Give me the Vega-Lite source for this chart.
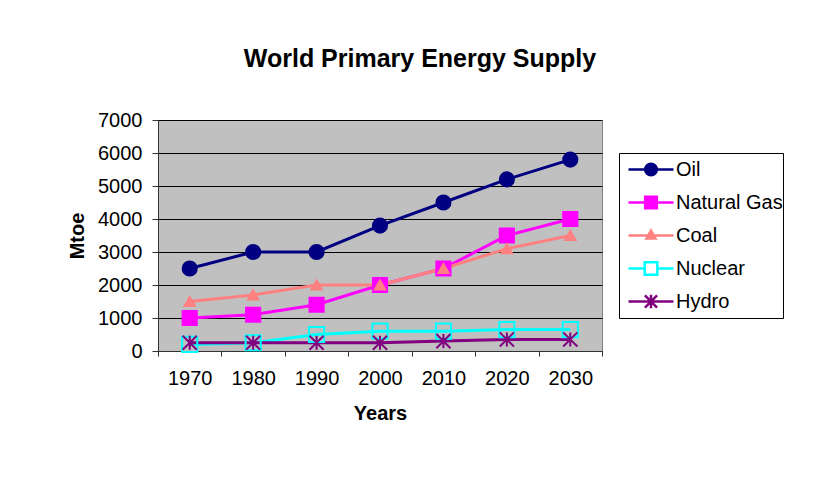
{
  "$schema": "https://vega.github.io/schema/vega-lite/v6.json",
  "width": 444,
  "height": 231,
  "autosize": {"type": "none"},
  "padding": {"left": 158, "top": 120, "right": 212, "bottom": 132},
  "background": "white",
  "title": {
    "text": "World Primary Energy Supply",
    "font": "Liberation Sans",
    "fontSize": 25,
    "fontWeight": "bold",
    "color": "black",
    "anchor": "middle",
    "baseline": "alphabetic",
    "dx": 40,
    "offset": 18
  },
  "data": {
    "values": [
      {"year": "1970", "series": "Oil", "value": 2500},
      {"year": "1980", "series": "Oil", "value": 3000},
      {"year": "1990", "series": "Oil", "value": 3000},
      {"year": "2000", "series": "Oil", "value": 3800},
      {"year": "2010", "series": "Oil", "value": 4500},
      {"year": "2020", "series": "Oil", "value": 5200},
      {"year": "2030", "series": "Oil", "value": 5800},
      {"year": "1970", "series": "Natural Gas", "value": 1000},
      {"year": "1980", "series": "Natural Gas", "value": 1100},
      {"year": "1990", "series": "Natural Gas", "value": 1400},
      {"year": "2000", "series": "Natural Gas", "value": 2000},
      {"year": "2010", "series": "Natural Gas", "value": 2500},
      {"year": "2020", "series": "Natural Gas", "value": 3500},
      {"year": "2030", "series": "Natural Gas", "value": 4000},
      {"year": "1970", "series": "Coal", "value": 1500},
      {"year": "1980", "series": "Coal", "value": 1700},
      {"year": "1990", "series": "Coal", "value": 2000},
      {"year": "2000", "series": "Coal", "value": 2000},
      {"year": "2010", "series": "Coal", "value": 2500},
      {"year": "2020", "series": "Coal", "value": 3100},
      {"year": "2030", "series": "Coal", "value": 3500},
      {"year": "1970", "series": "Nuclear", "value": 200},
      {"year": "1980", "series": "Nuclear", "value": 250},
      {"year": "1990", "series": "Nuclear", "value": 500},
      {"year": "2000", "series": "Nuclear", "value": 600},
      {"year": "2010", "series": "Nuclear", "value": 600},
      {"year": "2020", "series": "Nuclear", "value": 650},
      {"year": "2030", "series": "Nuclear", "value": 650},
      {"year": "1970", "series": "Hydro", "value": 250},
      {"year": "1980", "series": "Hydro", "value": 250},
      {"year": "1990", "series": "Hydro", "value": 250},
      {"year": "2000", "series": "Hydro", "value": 250},
      {"year": "2010", "series": "Hydro", "value": 300},
      {"year": "2020", "series": "Hydro", "value": 350},
      {"year": "2030", "series": "Hydro", "value": 350}
    ]
  },
  "encoding": {
    "x": {
      "field": "year",
      "type": "nominal",
      "sort": null,
      "scale": {"type": "band", "paddingInner": 0, "paddingOuter": 0},
      "axis": {
        "title": "Years",
        "labelAngle": 0,
        "tickBand": "extent",
        "tickSize": 5,
        "labelPadding": 12,
        "titlePadding": 15,
        "grid": false
      }
    },
    "y": {
      "field": "value",
      "type": "quantitative",
      "scale": {"domain": [0, 7000], "nice": false},
      "axis": {
        "title": "Mtoe",
        "format": "d",
        "values": [0, 1000, 2000, 3000, 4000, 5000, 6000, 7000],
        "tickSize": 6,
        "labelPadding": 10,
        "titlePadding": 10,
        "grid": true,
        "gridColor": "black",
        "gridWidth": 1
      }
    }
  },
  "layer": [
    {
      "mark": {"type": "line", "strokeWidth": 3},
      "encoding": {
        "stroke": {
          "field": "series",
          "type": "nominal",
          "scale": {
            "domain": ["Oil", "Natural Gas", "Coal", "Nuclear", "Hydro"],
            "range": ["#000080", "#FF00FF", "#FF8080", "#00FFFF", "#800080"]
          },
          "legend": null
        }
      }
    },
    {
      "mark": {"type": "point", "filled": true, "opacity": 1, "strokeWidth": 2},
      "encoding": {
        "stroke": {
          "field": "series",
          "type": "nominal",
          "scale": {
            "domain": ["Oil", "Natural Gas", "Coal", "Nuclear", "Hydro"],
            "range": ["#000080", "#FF00FF", "#FF8080", "#00FFFF", "#800080"]
          },
          "legend": null
        },
        "fill": {
          "field": "series",
          "type": "nominal",
          "scale": {
            "domain": ["Oil", "Natural Gas", "Coal", "Nuclear", "Hydro"],
            "range": ["#000080", "#FF00FF", "#FF8080", "transparent", "transparent"]
          },
          "legend": null
        },
        "shape": {
          "field": "series",
          "type": "nominal",
          "scale": {
            "domain": ["Oil", "Natural Gas", "Coal", "Nuclear", "Hydro"],
            "range": ["circle", "square", "triangle-up", "square", "M0,-1L0,1M-1,-1L1,1M-1,1L1,-1"]
          },
          "legend": null
        },
        "size": {
          "field": "series",
          "type": "nominal",
          "scale": {
            "type": "ordinal",
            "domain": ["Oil", "Natural Gas", "Coal", "Nuclear", "Hydro"],
            "range": [200, 200, 110, 230, 200]
          },
          "legend": null
        }
      }
    },
    {
      "transform": [{"filter": "false"}],
      "mark": {"type": "point", "filled": true, "opacity": 1, "strokeWidth": 2.5},
      "encoding": {
        "stroke": {
          "field": "series",
          "type": "nominal",
          "scale": {
            "domain": ["Oil", "Natural Gas", "Coal", "Nuclear", "Hydro"],
            "range": ["#000080", "#FF00FF", "#FF8080", "#00FFFF", "#800080"]
          },
          "legend": {"title": null}
        },
        "fill": {
          "field": "series",
          "type": "nominal",
          "scale": {
            "domain": ["Oil", "Natural Gas", "Coal", "Nuclear", "Hydro"],
            "range": ["#000080", "#FF00FF", "#FF8080", "transparent", "transparent"]
          },
          "legend": {"title": null}
        },
        "shape": {
          "field": "series",
          "type": "nominal",
          "scale": {
            "domain": ["Oil", "Natural Gas", "Coal", "Nuclear", "Hydro"],
            "range": [
              "M-1,0L1,0M0.26,0A0.26,0.26,0,1,1,-0.26,0A0.26,0.26,0,1,1,0.26,0Z",
              "M-1,0L1,0M-0.26,-0.26L0.26,-0.26L0.26,0.26L-0.26,0.26Z",
              "M-1,0L1,0M0,-0.22L0.2,0.13L-0.2,0.13Z",
              "M-1,0L-0.28,0M0.28,0L1,0M-0.28,-0.28L0.28,-0.28L0.28,0.28L-0.28,0.28Z",
              "M-1,0L1,0M0,-0.3L0,0.3M-0.27,-0.27L0.27,0.27M-0.27,0.27L0.27,-0.27"
            ]
          },
          "legend": {"title": null}
        }
      }
    }
  ],
  "resolve": {
    "scale": {"shape": "independent", "fill": "independent", "stroke": "independent", "size": "independent"},
    "legend": {"shape": "independent", "fill": "independent", "stroke": "independent"}
  },
  "config": {
    "view": {"fill": "#C0C0C0", "stroke": "#808080", "strokeWidth": 1},
    "axis": {
      "domainColor": "#333333",
      "tickColor": "#333333",
      "labelFont": "Liberation Sans",
      "labelFontSize": 20,
      "labelColor": "black",
      "titleFont": "Liberation Sans",
      "titleFontSize": 20,
      "titleFontWeight": "bold",
      "titleColor": "black"
    },
    "legend": {
      "orient": "none",
      "legendX": 461,
      "legendY": 33,
      "strokeColor": "black",
      "fillColor": "white",
      "padding": 0,
      "symbolOffset": 8,
      "labelOffset": 1,
      "clipHeight": 33,
      "rowPadding": 0,
      "symbolSize": 2025,
      "symbolStrokeWidth": 2.5,
      "labelFont": "Liberation Sans",
      "labelFontSize": 20,
      "labelColor": "black",
      "labelLimit": 200
    }
  }
}
